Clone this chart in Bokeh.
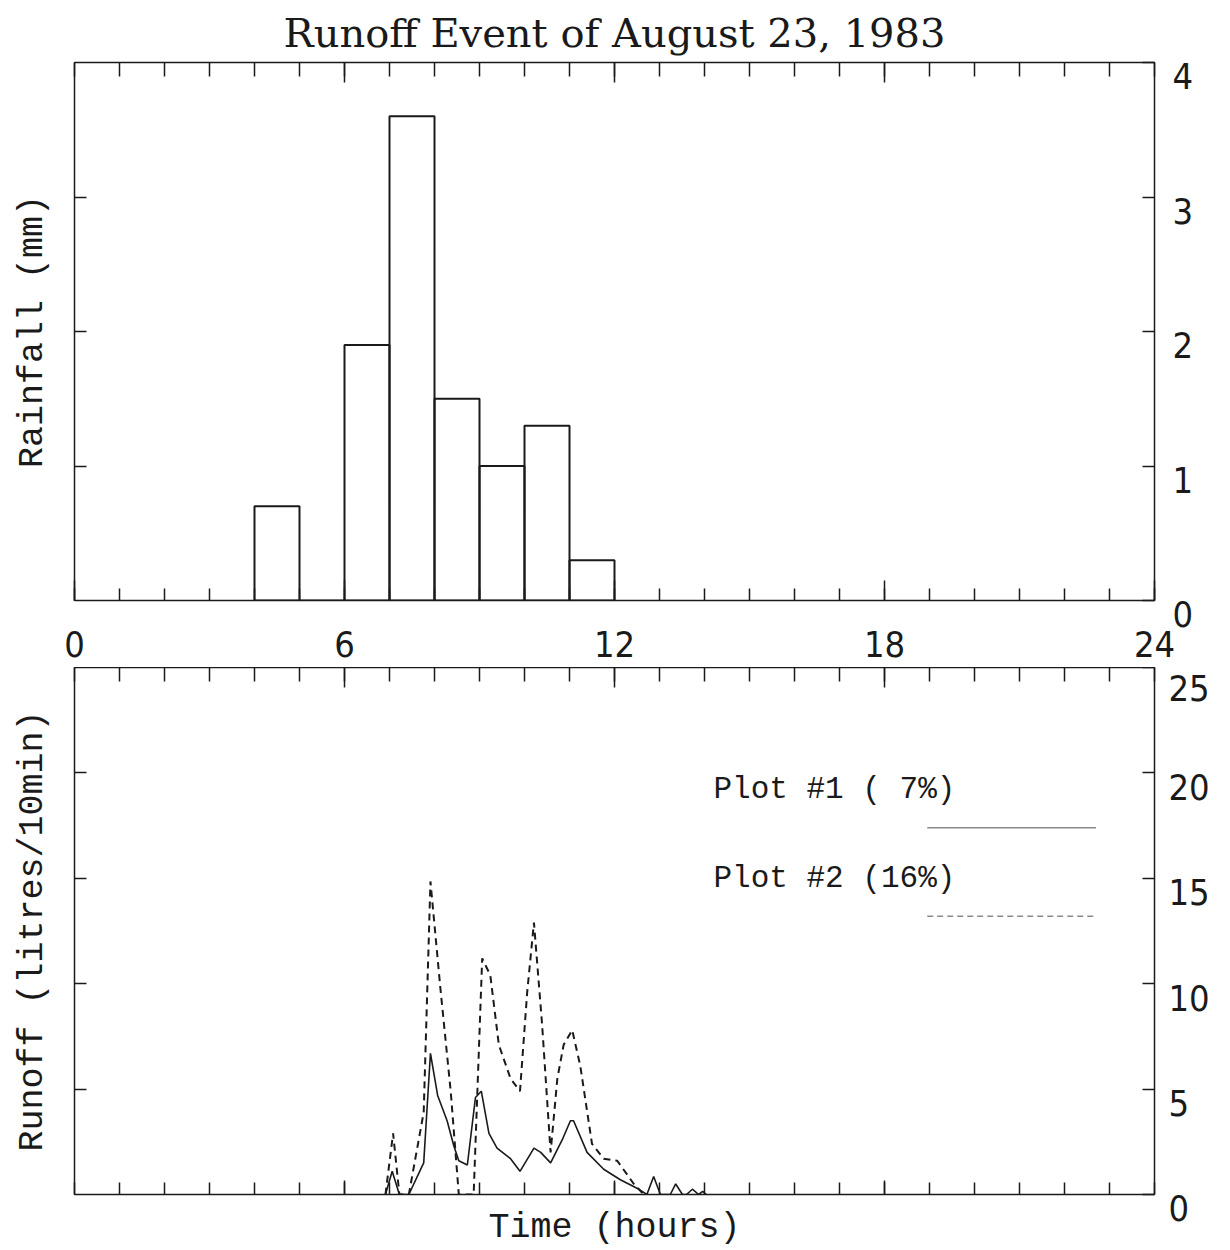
from bokeh.plotting import figure
from bokeh.layouts import column
from bokeh.models import FixedTicker, LinearAxis, Label, Range1d, Arrow
from bokeh.embed import file_html
from bokeh.resources import INLINE

# ---------------- data ----------------
# hourly rainfall (bin start hour, depth in mm)
rain_hour_start = [4, 5, 6, 7, 8, 9, 10, 11]
rainfall_mm = [0.7, 0.0, 1.9, 3.6, 1.5, 1.0, 1.3, 0.3]

# Plot #1 (7%) runoff, litres/10min
plot1_time = [6.91, 7.06, 7.22, 7.43, 7.76, 7.91, 8.07, 8.28, 8.43, 8.54, 8.73,
              8.91, 9.04, 9.21, 9.39, 9.69, 9.90, 10.21, 10.36, 10.58, 10.84,
              11.02, 11.09, 11.39, 11.76, 12.13, 12.50, 12.72, 12.87, 13.02,
              13.24, 13.36, 13.51, 13.60, 13.73, 13.87, 13.96, 14.04]
plot1_runoff = [0.0, 1.1, 0.0, 0.0, 1.5, 6.7, 4.7, 3.5, 2.3, 1.6, 1.4,
                4.6, 4.9, 2.9, 2.2, 1.7, 1.1, 2.2, 2.0, 1.5, 2.6,
                3.5, 3.5, 2.0, 1.2, 0.7, 0.3, 0.0, 0.85, 0.0,
                0.0, 0.5, 0.0, 0.0, 0.25, 0.0, 0.15, 0.0]

# Plot #2 (16%) runoff, litres/10min
plot2_time = [6.91, 7.08, 7.22, 7.43, 7.76, 7.91, 8.13, 8.36, 8.54, 8.87, 9.06,
              9.24, 9.43, 9.69, 9.90, 10.06, 10.21, 10.39, 10.58, 10.73, 10.87,
              11.06, 11.24, 11.50, 11.76, 12.06, 12.43, 12.65]
plot2_runoff = [0.0, 2.9, 0.0, 0.0, 3.9, 14.85, 9.8, 4.9, 0.0, 0.0, 11.2,
                10.4, 7.1, 5.5, 4.9, 9.6, 12.9, 8.1, 2.0, 5.5, 7.1,
                7.8, 6.1, 2.4, 1.7, 1.6, 0.5, 0.0]

x_label_ticks = [0, 6, 12, 18, 24]
x_hour_ticks = list(range(25))
rain_ticks = [0, 1, 2, 3, 4]
runoff_ticks = [0, 5, 10, 15, 20, 25]
legend_labels = ["Plot #1 ( 7%)", "Plot #2 (16%)"]

# ---------------- style ----------------
TICK_FONT = "'Liberation Sans Narrow', 'DejaVu Sans Condensed', 'Liberation Sans', sans-serif"
MONO = "Liberation Mono"
INK = "#1a1a1a"
W = 1230


def axis_style(ax, major, minor, major_in, minor_in, labels=False):
    ax.ticker = FixedTicker(ticks=major, minor_ticks=minor)
    ax.axis_line_color = None
    ax.major_tick_in = major_in
    ax.major_tick_out = 0
    ax.minor_tick_in = minor_in
    ax.minor_tick_out = 0
    ax.major_tick_line_color = INK
    ax.minor_tick_line_color = INK
    ax.major_tick_line_width = 1.5
    ax.minor_tick_line_width = 1.5
    if labels:
        ax.major_label_text_font = TICK_FONT
        ax.major_label_text_font_size = "36px"
        ax.major_label_text_color = INK
    else:
        ax.major_label_text_font_size = "0px"
        ax.major_label_text_color = None
        ax.major_label_standoff = 0


def base_fig(height, y_range, top, bottom):
    p = figure(width=W, height=height, x_range=Range1d(0, 24), y_range=y_range,
               output_backend="svg", toolbar_location=None,
               min_border_left=74, min_border_right=76,
               min_border_top=top, min_border_bottom=bottom)
    p.grid.visible = False
    p.outline_line_color = INK
    p.outline_line_width = 1.5
    p.background_fill_color = "white"
    p.border_fill_color = "white"
    return p


def y_title(ax, text):
    ax.axis_label = text
    ax.axis_label_text_font = MONO
    ax.axis_label_text_font_size = "35px"
    ax.axis_label_text_font_style = "normal"
    ax.axis_label_text_color = INK
    ax.axis_label_standoff = 22


def right_value_axis(p, ticks, standoff, keep_centred=()):
    # value labels sit just below their tick, as in the original plotter output
    ax = LinearAxis()
    axis_style(ax, ticks, [], 12, 0, labels=True)
    ax.major_label_standoff = standoff
    ax.major_label_text_line_height = 0.7
    ax.major_label_overrides = {v: "\n" + str(v) for v in ticks if v not in keep_centred}
    p.add_layout(ax, "right")
    return ax


# ---------------- top panel: rainfall ----------------
p1 = base_fig(667, Range1d(0, 4), 62, 67)
p1.title.text = "Runoff Event of August 23, 1983"
p1.title.align = "center"
p1.title.text_font = "DejaVu Serif"
p1.title.text_font_size = "40px"
p1.title.text_font_style = "normal"
p1.title.text_color = INK
p1.title.standoff = 13

bin_right = [h + 1 for h in rain_hour_start]
p1.quad(left=rain_hour_start, right=bin_right, bottom=0, top=rainfall_mm,
        fill_color=None, line_color=INK, line_width=2)

# hour scale, labelled between the two panels
bx = p1.below[0]
axis_style(bx, x_label_ticks, x_hour_ticks, 20, 12, labels=True)
bx.major_label_standoff = 30

ax_top = LinearAxis()
axis_style(ax_top, [6, 12, 18], x_hour_ticks, 20, 14)
p1.add_layout(ax_top, "above")

ly = p1.left[0]
axis_style(ly, [], rain_ticks[1:-1], 0, 12)
y_title(ly, "Rainfall (mm)")

right_value_axis(p1, rain_ticks, 18)

# ---------------- bottom panel: runoff ----------------
p2 = base_fig(583, Range1d(0, 25), 0, 55)
p2.line(plot1_time, plot1_runoff, line_color=INK, line_width=1.6)
p2.line(plot2_time, plot2_runoff, line_color=INK, line_width=2, line_dash="7 5")

bx2 = p2.below[0]
axis_style(bx2, [6, 12, 18], x_hour_ticks, 14, 12)
bx2.axis_label = "Time (hours)"
bx2.axis_label_text_font = MONO
bx2.axis_label_text_font_size = "35px"
bx2.axis_label_text_font_style = "normal"
bx2.axis_label_text_color = INK
bx2.axis_label_standoff = 13

ax_top2 = LinearAxis()
axis_style(ax_top2, [6, 12, 18], x_hour_ticks, 20, 14)
p2.add_layout(ax_top2, "above")

ly2 = p2.left[0]
axis_style(ly2, [], runoff_ticks[1:-1], 0, 12)
y_title(ly2, "Runoff (litres/10min)")

right_value_axis(p2, runoff_ticks, 14, keep_centred=(runoff_ticks[-1],))

# legend (text above, sample line below)
legend_y = [19.2, 15.0]
legend_dash = ["solid", "6 4"]
for lab, yy, dash in zip(legend_labels, legend_y, legend_dash):
    p2.add_layout(Label(x=14.2, y=yy, text=lab, text_align="left",
                        text_baseline="middle", text_font=MONO,
                        text_font_size="31px", text_color=INK))
    p2.add_layout(Arrow(end=None, x_start=18.95, y_start=yy - 1.8,
                        x_end=22.7, y_end=yy - 1.8, line_color="#8a8a8a",
                        line_width=1.5, line_dash=dash))

layout = column(p1, p2, spacing=0)
open("out.html", "w").write(file_html(layout, INLINE))
